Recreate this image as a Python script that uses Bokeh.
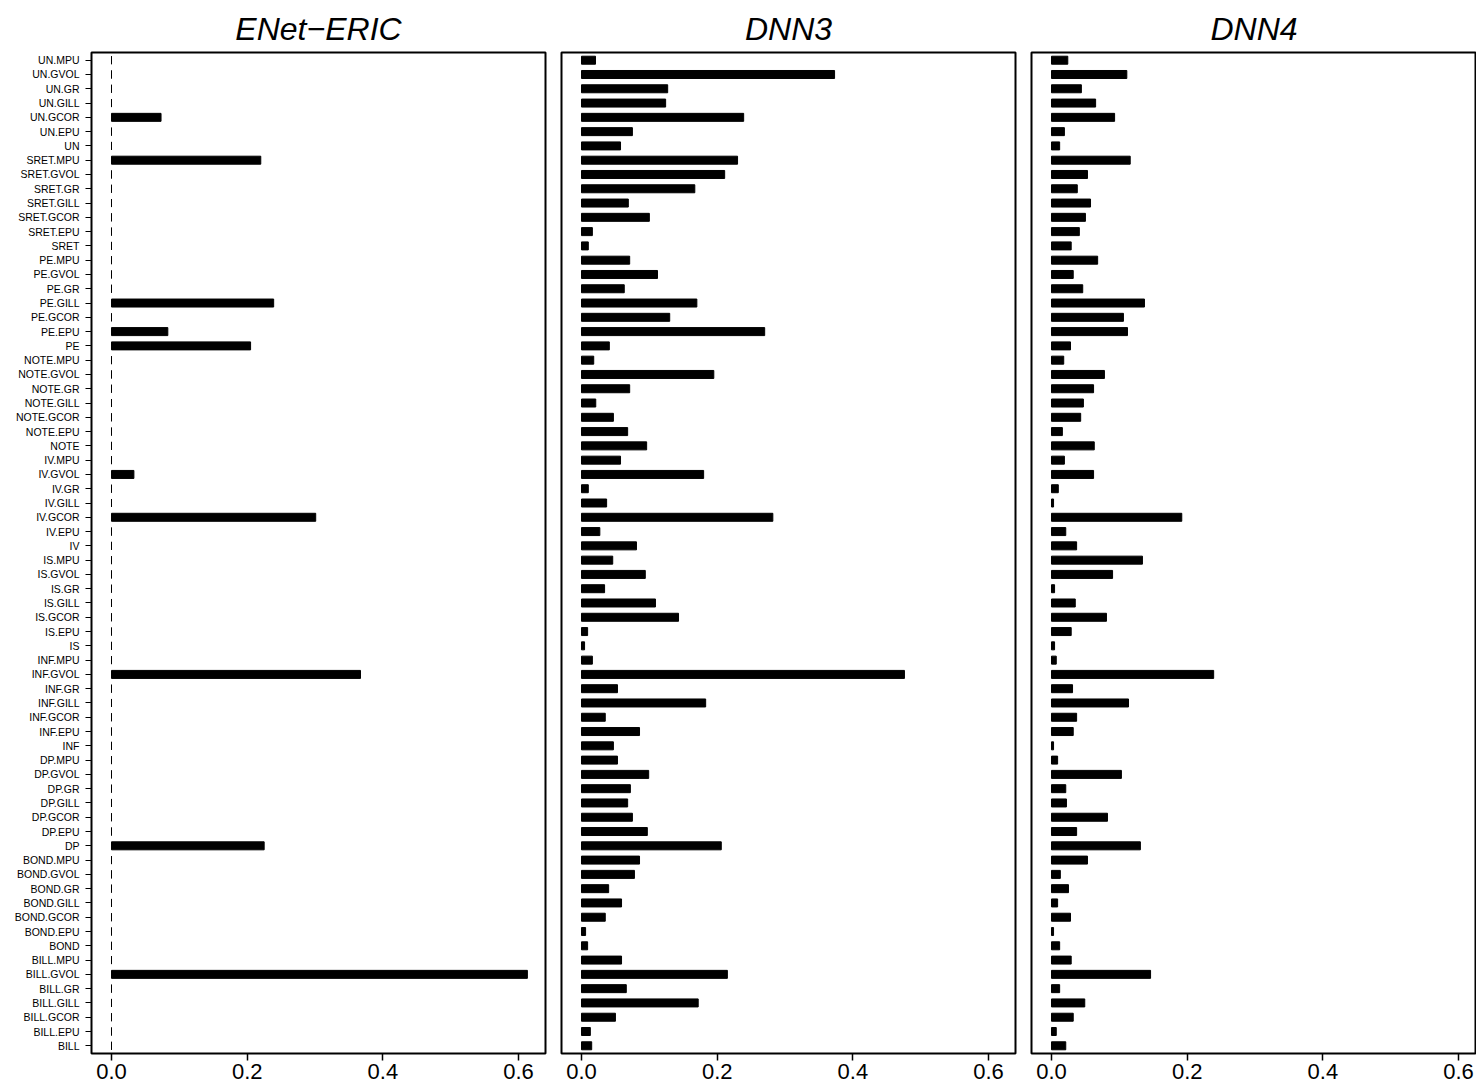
from bokeh.plotting import figure
from bokeh.layouts import row
from bokeh.models import FactorRange, Range1d, FixedTicker, NumeralTickFormatter
from bokeh.embed import file_html
from bokeh.resources import INLINE

# ---- data (bottom to top) ----
categories = [
    "BILL", "BILL.EPU", "BILL.GCOR", "BILL.GILL", "BILL.GR", "BILL.GVOL", "BILL.MPU",
    "BOND", "BOND.EPU", "BOND.GCOR", "BOND.GILL", "BOND.GR", "BOND.GVOL", "BOND.MPU",
    "DP", "DP.EPU", "DP.GCOR", "DP.GILL", "DP.GR", "DP.GVOL", "DP.MPU",
    "INF", "INF.EPU", "INF.GCOR", "INF.GILL", "INF.GR", "INF.GVOL", "INF.MPU",
    "IS", "IS.EPU", "IS.GCOR", "IS.GILL", "IS.GR", "IS.GVOL", "IS.MPU",
    "IV", "IV.EPU", "IV.GCOR", "IV.GILL", "IV.GR", "IV.GVOL", "IV.MPU",
    "NOTE", "NOTE.EPU", "NOTE.GCOR", "NOTE.GILL", "NOTE.GR", "NOTE.GVOL", "NOTE.MPU",
    "PE", "PE.EPU", "PE.GCOR", "PE.GILL", "PE.GR", "PE.GVOL", "PE.MPU",
    "SRET", "SRET.EPU", "SRET.GCOR", "SRET.GILL", "SRET.GR", "SRET.GVOL", "SRET.MPU",
    "UN", "UN.EPU", "UN.GCOR", "UN.GILL", "UN.GR", "UN.GVOL", "UN.MPU",
]

enet_eric = [
    0, 0, 0, 0, 0, 0.613, 0,
    0, 0, 0, 0, 0, 0, 0,
    0.225, 0, 0, 0, 0, 0, 0,
    0, 0, 0, 0, 0, 0.367, 0,
    0, 0, 0, 0, 0, 0, 0,
    0, 0, 0.301, 0, 0, 0.033, 0,
    0, 0, 0, 0, 0, 0, 0,
    0.205, 0.083, 0, 0.239, 0, 0, 0,
    0, 0, 0, 0, 0, 0, 0.220,
    0, 0, 0.073, 0, 0, 0, 0,
]

dnn3 = [
    0.015, 0.013, 0.050, 0.172, 0.066, 0.215, 0.059,
    0.009, 0.006, 0.035, 0.059, 0.040, 0.078, 0.0855,
    0.206, 0.097, 0.075, 0.068, 0.072, 0.099, 0.053,
    0.047, 0.0855, 0.035, 0.183, 0.053, 0.476, 0.016,
    0.0045, 0.009, 0.143, 0.109, 0.034, 0.094, 0.046,
    0.081, 0.027, 0.282, 0.037, 0.010, 0.180, 0.0575,
    0.096, 0.068, 0.047, 0.021, 0.071, 0.195, 0.018,
    0.041, 0.270, 0.130, 0.170, 0.063, 0.112, 0.071,
    0.010, 0.016, 0.100, 0.069, 0.167, 0.211, 0.230,
    0.0575, 0.075, 0.239, 0.124, 0.127, 0.373, 0.0206,
]

dnn4 = [
    0.021, 0.007, 0.032, 0.049, 0.012, 0.146, 0.029,
    0.012, 0.003, 0.028, 0.009, 0.025, 0.013, 0.053,
    0.131, 0.037, 0.0825, 0.022, 0.021, 0.103, 0.009,
    0.003, 0.032, 0.037, 0.1135, 0.031, 0.239, 0.007,
    0.0045, 0.029, 0.081, 0.035, 0.0045, 0.090, 0.134,
    0.037, 0.021, 0.192, 0.003, 0.010, 0.062, 0.019,
    0.063, 0.016, 0.043, 0.047, 0.062, 0.078, 0.018,
    0.028, 0.112, 0.106, 0.137, 0.046, 0.032, 0.068,
    0.029, 0.041, 0.050, 0.0575, 0.038, 0.053, 0.116,
    0.012, 0.019, 0.093, 0.065, 0.044, 0.111, 0.024,
]

titles = ["ENet\u2212ERIC", "DNN3", "DNN4"]
x_ticks = [0.0, 0.2, 0.4, 0.6]

# ---- layout ----
FONT = "Liberation Sans"
X0, X1 = -0.0295, 0.6397
FRAME_W = 454
FRAME_H = 1001
PX_PER_UNIT = FRAME_W / (X1 - X0)


def panel(title, vals, show_y, frame_w, b_left, b_right):
    x_end = X0 + frame_w / PX_PER_UNIT
    p = figure(
        y_range=FactorRange(factors=categories, range_padding=0.04,
                            range_padding_units="absolute"),
        x_range=Range1d(X0, x_end),
        frame_width=frame_w, frame_height=FRAME_H,
        min_border_left=b_left, min_border_right=b_right,
        min_border_top=52, min_border_bottom=34,
        output_backend="svg", toolbar_location=None,
        y_axis_location="left" if show_y else None,
        background_fill_color="white", border_fill_color="white",
    )
    p.title.text = title
    p.title.text_font = FONT
    p.title.text_font_style = "italic"
    p.title.text_font_size = "32px"
    p.title.align = "center"
    p.title.text_color = "black"
    p.title.standoff = 12

    p.hbar(y=categories, left=0, right=vals, height=0.56,
           fill_color="black", line_color="black", line_width=1)

    p.outline_line_color = "black"
    p.outline_line_width = 2
    p.outline_line_alpha = 1.0
    p.xgrid.visible = False
    p.ygrid.visible = False

    xa = p.xaxis[0]
    xa.ticker = FixedTicker(ticks=x_ticks)
    xa.formatter = NumeralTickFormatter(format="0.0")
    xa.axis_line_color = None
    xa.major_tick_out = 7
    xa.major_tick_in = 0
    xa.major_tick_line_width = 1.5
    xa.major_tick_line_color = "black"
    xa.minor_tick_line_color = None
    xa.major_label_text_font = FONT
    xa.major_label_text_font_size = "22px"
    xa.major_label_text_color = "black"
    xa.major_label_standoff = 3

    if show_y:
        ya = p.yaxis[0]
        ya.axis_line_color = None
        ya.major_tick_out = 6
        ya.major_tick_in = 0
        ya.major_tick_line_width = 1.2
        ya.major_tick_line_color = "black"
        ya.minor_tick_line_color = None
        ya.major_label_text_font = FONT
        ya.major_label_text_font_size = "10.5px"
        ya.major_label_text_color = "black"
        ya.major_label_standoff = 6
    return p


p1 = panel(titles[0], enet_eric, True, FRAME_W, 91, 8)
p2 = panel(titles[1], dnn3, False, FRAME_W, 8, 8)
p3 = panel(titles[2], dnn4, False, 445, 8, 0)

layout = row(p1, p2, p3, spacing=0)

with open("out.html", "w") as f:
    f.write(file_html(layout, INLINE))
